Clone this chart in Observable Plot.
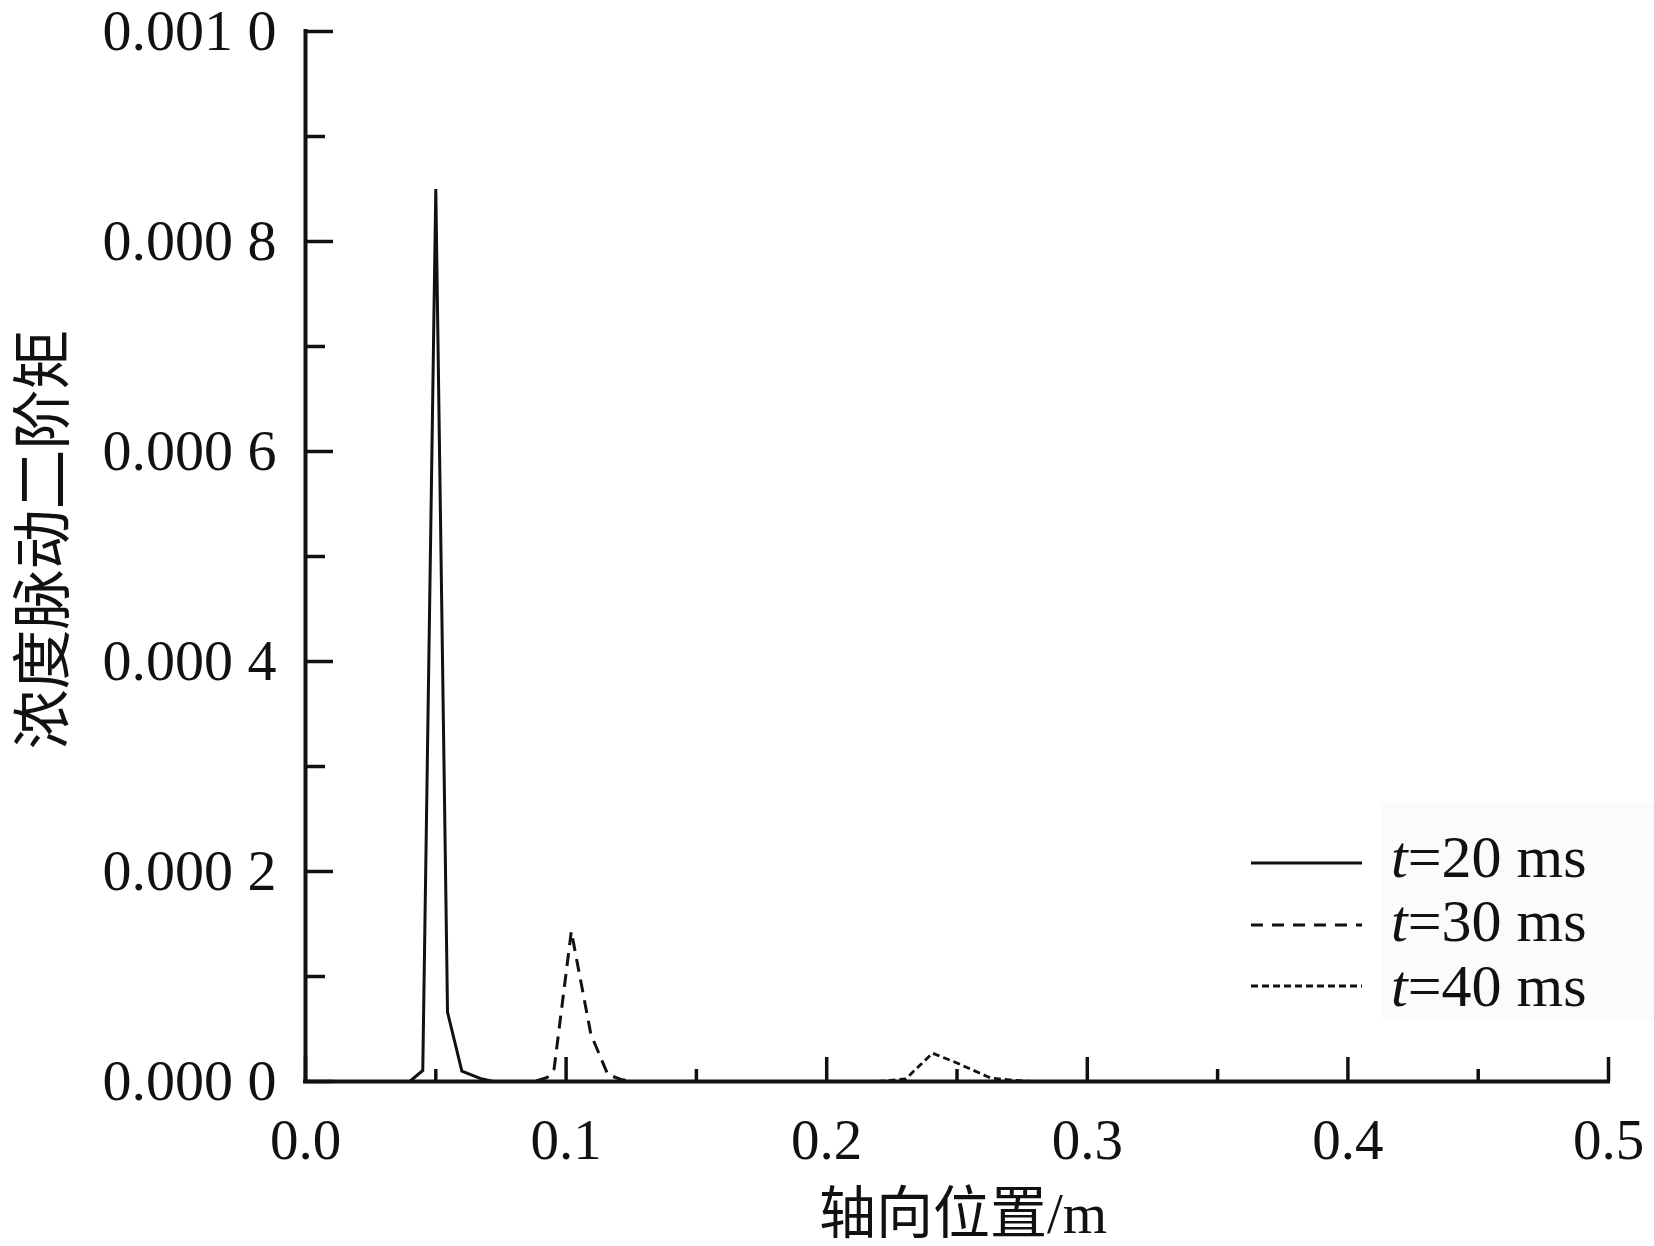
<!DOCTYPE html>
<html><head><meta charset="utf-8">
<script src="https://cdn.jsdelivr.net/npm/d3@7"></script>
<script src="https://cdn.jsdelivr.net/npm/@observablehq/plot@0.6"></script>
<style>
html,body{margin:0;padding:0;background:#fff;}
#chart{width:1654px;height:1246px;}
</style></head><body><div id="chart"></div>
<script>
// ---- data ----
const positions20 = [0, 0.040, 0.045, 0.050, 0.0545, 0.060, 0.067, 0.072, 0.5];
const moment20    = [0, 0, 0.0000105, 0.00085, 0.000066, 0.0000098, 0.000003, 0, 0];

const positions30 = [0, 0.088, 0.0928, 0.0954, 0.102, 0.1095, 0.116, 0.121, 0.126, 0.5];
const moment30    = [0, 0, 0.000004, 0.000012, 0.000143, 0.000045, 0.0000067, 0.000002, 0, 0];

const positions40 = [0, 0.218, 0.2233, 0.2304, 0.2406, 0.2502, 0.263, 0.268, 0.2757, 0.28, 0.5];
const moment40    = [0, 0, 0.0000007, 0.0000026, 0.000027, 0.0000174, 0.0000032, 0.000002, 0.0000005, 0, 0];

const seriesTimes = ["20", "30", "40"];

const yMajorTicks = [0, 0.0002, 0.0004, 0.0006, 0.0008, 0.001];
const yTickLabels = ["0.000 0", "0.000 2", "0.000 4", "0.000 6", "0.000 8", "0.001 0"];
const yMinorTicks = [0.0001, 0.0003, 0.0005, 0.0007, 0.0009];
const xMajorTicks = [0, 0.1, 0.2, 0.3, 0.4, 0.5];
const xTickLabels = ["0.0", "0.1", "0.2", "0.3", "0.4", "0.5"];
const xMinorTicks = [0.05, 0.15, 0.25, 0.35, 0.45];

const xTitle = "轴向位置/m";
const yTitle = "浓度脉动二阶矩";

// ---- layout ----
const W = 1654, H = 1246, mL = 305, mR = 46, mT = 31, mB = 165;
const plotW = W - mL - mR, plotH = H - mT - mB;
const serif = "'Liberation Serif','Times New Roman','Noto Sans CJK SC',serif";
const ink = "#111";

const toRows = (xs, ys) => xs.map((x, i) => ({x, y: ys[i]}));

const chart = Plot.plot({
  width: W, height: H,
  marginLeft: mL, marginRight: mR, marginTop: mT, marginBottom: mB,
  style: {fontFamily: serif, fontSize: "57px", color: ink, background: "#fff", overflow: "visible"},
  x: {domain: [0, 0.5]},
  y: {domain: [0, 0.001]},
  marks: [
    Plot.line(toRows(positions20, moment20), {x: "x", y: "y", stroke: ink, strokeWidth: 3, strokeLinejoin: "miter", strokeMiterlimit: 20}),
    Plot.line(toRows(positions30, moment30), {x: "x", y: "y", stroke: ink, strokeWidth: 3, strokeDasharray: "13,8", strokeLinecap: "butt"}),
    Plot.line(toRows(positions40, moment40), {x: "x", y: "y", stroke: ink, strokeWidth: 2.8, strokeDasharray: "7,4", strokeLinecap: "butt"}),
    Plot.ruleY(yMajorTicks, {y: d => d, insetRight: plotW - 28, stroke: ink, strokeWidth: 3.5}),
    Plot.ruleY(yMinorTicks, {y: d => d, insetRight: plotW - 20, stroke: ink, strokeWidth: 3.5}),
    Plot.ruleX(xMajorTicks, {x: d => d, insetTop: plotH - 24, stroke: ink, strokeWidth: 3.5}),
    Plot.ruleX(xMinorTicks, {x: d => d, insetTop: plotH - 12, stroke: ink, strokeWidth: 3.5}),
    Plot.ruleX([0], {stroke: ink, strokeWidth: 4, strokeLinecap: "square"}),
    Plot.ruleY([0], {stroke: ink, strokeWidth: 4, strokeLinecap: "square"}),
    Plot.axisY(yMajorTicks, {tickSize: 0, tickPadding: 29, label: null, fontSize: 58, fill: ink,
      tickFormat: d => yTickLabels[yMajorTicks.indexOf(d)]}),
    Plot.axisX(xMajorTicks, {tickSize: 0, tickPadding: 37, label: null, fontSize: 57, fill: ink,
      tickFormat: d => xTickLabels[xMajorTicks.indexOf(d)]}),
    Plot.text([xTitle], {frameAnchor: "bottom", text: d => d, textAnchor: "middle", lineAnchor: "middle", dx: 6, dy: 133, fontSize: 57, fill: ink}),
    Plot.text([yTitle], {frameAnchor: "left", text: d => d, textAnchor: "middle", lineAnchor: "middle", rotate: -90, dx: -261, dy: -17, fontSize: 60, fill: ink})
  ]
});
document.getElementById("chart").appendChild(chart);

// ---- legend ----
const svg = d3.select(chart);
const lg = svg.append("g").attr("font-family", serif).attr("font-size", 60).attr("fill", ink).attr("text-anchor", "start");
lg.append("rect").attr("x", 1382).attr("y", 802).attr("width", 272).attr("height", 219).attr("fill", "#fbfbfb");
const dashes = [null, "12,9", "7,4"];
const lineYs = [863, 925, 986];
const textYs = [877, 941, 1006];
seriesTimes.forEach((t, i) => {
  const l = lg.append("line").attr("x1", 1251).attr("x2", 1362).attr("y1", lineYs[i]).attr("y2", lineYs[i])
    .attr("stroke", ink).attr("stroke-width", 2.8);
  if (dashes[i]) l.attr("stroke-dasharray", dashes[i]);
  const tx = lg.append("text").attr("x", 1391).attr("y", textYs[i]).attr("text-anchor", "start");
  tx.append("tspan").attr("font-style", "italic").text("t");
  tx.append("tspan").text("=" + t + " ms");
});
</script>
</body></html>
